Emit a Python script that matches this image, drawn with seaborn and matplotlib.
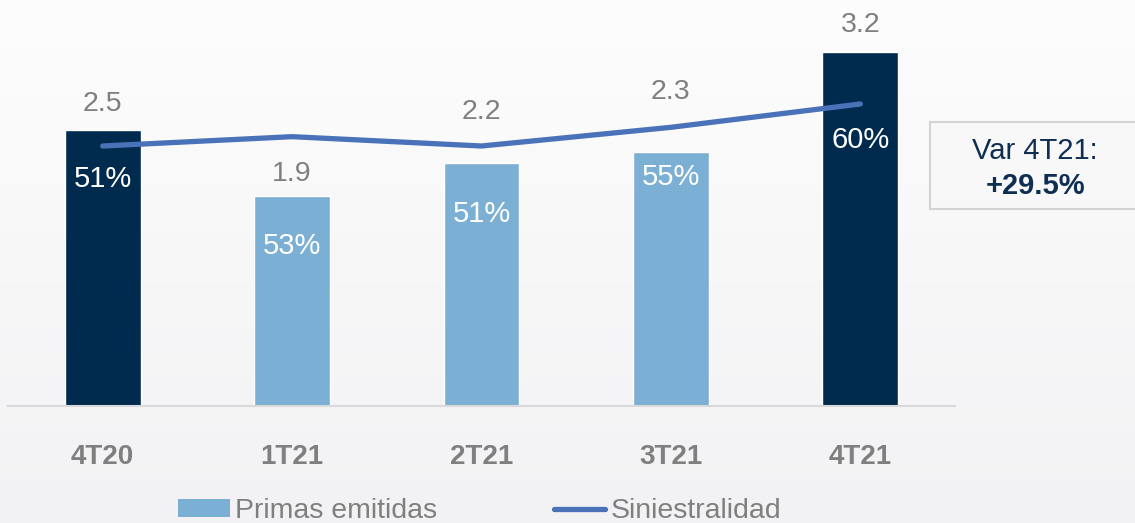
import numpy as np
import pandas as pd
import matplotlib
matplotlib.use("Agg")
import matplotlib.pyplot as plt
from matplotlib.patches import Patch, Rectangle
from matplotlib.lines import Line2D
import seaborn as sns

# ---- data ----
quarters = ["4T20", "1T21", "2T21", "3T21", "4T21"]
primas = [2.5, 1.9, 2.2, 2.3, 3.2]
siniestralidad = [51, 53, 51, 55, 60]
bar_colors = ["#002A4E", "#7BAFD4", "#7BAFD4", "#7BAFD4", "#002A4E"]
var_title = "Var 4T21:"
var_value = "+29.5%"

# label layout (in bar-axis units)
value_label_y = [2.73, 2.10, 2.66, 2.84, 3.45]
pct_label_y = [2.05, 1.45, 1.74, 2.07, 2.41]

sns.set_theme(style="white")
plt.rcParams["font.family"] = ["Liberation Sans", "DejaVu Sans"]

W, H = 1135, 523
fig = plt.figure(figsize=(W / 100, H / 100), dpi=100)

# background gradient
bg = fig.add_axes([0, 0, 1, 1], zorder=-10)
grad = np.linspace(0, 1, 256).reshape(-1, 1)
c_top = np.array([0.992, 0.992, 0.992])
c_bot = np.array([0.949, 0.949, 0.957])
img = c_top[None, None, :] * (1 - grad[:, :, None]) + c_bot[None, None, :] * grad[:, :, None]
bg.imshow(img, aspect="auto", extent=[0, 1, 0, 1], origin="upper")
bg.set_axis_off()

left, right = 8 / W, 955 / W
bottom, top = (H - 406) / H, (H - 20) / H
ax = fig.add_axes([left, bottom, right - left, top - bottom])
ax.patch.set_alpha(0)

df = pd.DataFrame({"q": quarters, "v": primas})
sns.barplot(data=df, x="q", y="v", hue="q", palette=bar_colors, legend=False,
            width=0.40, ax=ax, saturation=1)
ax.set_xlim(-0.5, 4.5)
ax.set_ylim(0, 386 / 110.5)
ax.set_xlabel("")
ax.set_ylabel("")
ax.set_yticks([])
for s in ["top", "right", "left"]:
    ax.spines[s].set_visible(False)
ax.spines["bottom"].set_color("#D9D9D9")
ax.spines["bottom"].set_linewidth(1.5)
ax.tick_params(axis="x", length=0, pad=27)
for lbl in ax.get_xticklabels():
    lbl.set_fontsize(20)
    lbl.set_fontweight("bold")
    lbl.set_color("#7F7F7F")

for i, v in enumerate(primas):
    ax.text(i, value_label_y[i], f"{v:.1f}", ha="center", va="center",
            fontsize=20.5, color="#7F7F7F")
    ax.text(i, pct_label_y[i], f"{siniestralidad[i]}%", ha="center", va="center",
            fontsize=21, color="white", zorder=5)

ax2 = ax.twinx()
sns.lineplot(x=np.arange(len(quarters)), y=siniestralidad, ax=ax2,
             color="#4A72B8", linewidth=3.8, solid_capstyle="round")
ax2.set_ylim(-4.67, 77.98)
ax2.set_yticks([])
ax2.set_xlim(-0.5, 4.5)
for s in ax2.spines.values():
    s.set_visible(False)
ax.set_zorder(1)
ax2.set_zorder(2)
ax2.patch.set_alpha(0)

# Var box
fig.patches.append(Rectangle((930 / W, (H - 209) / H), 220 / W, 87 / H,
                             transform=fig.transFigure, facecolor="#F8F8F8",
                             edgecolor="#D3D3D3", linewidth=1.5, zorder=3))
fig.text(1035 / W, (H - 151) / H, var_title, ha="center", va="center",
         fontsize=21, color="#0E2E52", zorder=4)
fig.text(1036 / W, (H - 186) / H, var_value, ha="center", va="center",
         fontsize=21, fontweight="bold", color="#0E2E52", zorder=4)

handles = [Patch(facecolor="#7BAFD4", edgecolor="none"),
           Line2D([0], [0], color="#4A72B8", linewidth=3.8, solid_capstyle="round")]
leg = fig.legend(handles, ["Primas emitidas", "Siniestralidad"], loc="center",
                 bbox_to_anchor=(480 / W, (H - 511) / H), ncol=2, frameon=False,
                 fontsize=20.5, handlelength=1.8, handleheight=0.55, handletextpad=0.2,
                 columnspacing=4.1, borderpad=0)
for t in leg.get_texts():
    t.set_color("#7F7F7F")

fig.savefig("out.png", dpi=100)
